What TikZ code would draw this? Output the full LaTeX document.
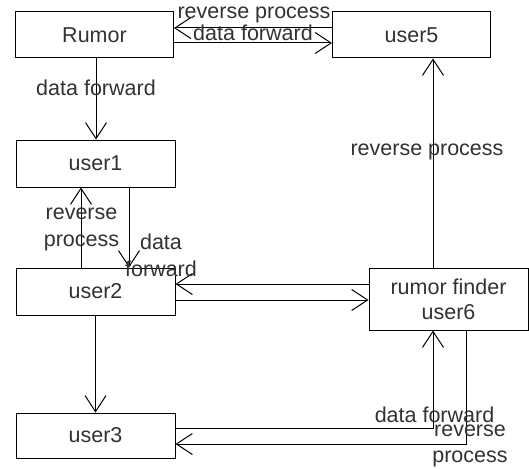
\documentclass[tikz,border=0pt]{standalone}
\usepackage{fontspec}
\setmainfont{Liberation Sans}
\usetikzlibrary{arrows.meta}
\definecolor{txt}{RGB}{50,50,50}
\begin{document}
\begin{tikzpicture}[x=1pt,y=-1pt,
  box/.style={draw=black,line width=1pt,minimum width=158pt,minimum height=46pt,inner sep=0pt,font=\fontsize{21.5}{25}\selectfont,text=txt,align=center},
  lbl/.style={inner sep=0pt,font=\fontsize{21.5}{26.5}\selectfont,text=txt,align=center},
  arr/.style={draw=black,line width=1pt,-{Straight Barb[length=16pt,width=21pt,line width=1pt]}}]
\useasboundingbox (0,0) rectangle (529,468);
% boxes
\node[box] (Rumor) at (94.5,35) {Rumor};
\node[box] (user5) at (411.5,35) {user5};
\node[box,minimum width=159pt,minimum height=47pt] (user1) at (95.5,163.5) {user1};
\node[box,minimum width=159pt,minimum height=47pt] (user2) at (95.5,291.5) {user2};
\node[box,minimum width=159pt,minimum height=45pt] (user3) at (95.5,435.5) {user3};
\node[box,minimum width=159pt,minimum height=62pt] (user6) at (448.5,299) {rumor finder\\user6};
% connectors
\draw[arr] ([yshift=7pt]user5.west) -- ([yshift=7pt]Rumor.east);
\draw[arr] ([yshift=-8pt]Rumor.east) -- ([yshift=-8pt]user5.west);
\draw[arr] ([xshift=1.5pt]Rumor.south) -- ([xshift=0.5pt]user1.north);
\draw[arr] ([xshift=-14.5pt]user2.north) -- ([xshift=-14.5pt]user1.south);
\draw[arr] ([xshift=33.5pt]user1.south) -- ([xshift=33.5pt]user2.north);
\draw[arr] (user2.south) -- (user3.north);
\coordinate (a1) at ([yshift=7.5pt]user2.east);
\coordinate (a2) at ([yshift=-8.5pt]user2.east);
\draw[arr] (a1 -| user6.west) -- (a1);
\draw[arr] (a2) -- (a2 -| user6.west);
\coordinate (c1) at ([xshift=-15.5pt]user6.north);
\draw[arr] (c1) -- (c1 |- user5.south);
\draw[arr] ([yshift=7.5pt]user3.east) -| ([xshift=-15.5pt]user6.south);
\draw[arr] ([xshift=17.5pt]user6.south) |- ([yshift=-8.5pt]user3.east);
% labels
\node[lbl] (l1) at (254,15) {reverse process};
\node[lbl] (l2) at (253,33) {data forward};
\node[lbl] (l3) at (96,88) {data forward};
\node[lbl] (l4) at (427,152) {reverse process};
\node[lbl] (l5) at (81.5,229.5) {reverse\\process};
\node[lbl] (l6) at (161,255.5) {data\\forward};
\node[lbl] (l7) at (434.5,415) {data forward};
\node[lbl] (l8) at (470,446) {reverse\\process};
\end{tikzpicture}
\end{document}
